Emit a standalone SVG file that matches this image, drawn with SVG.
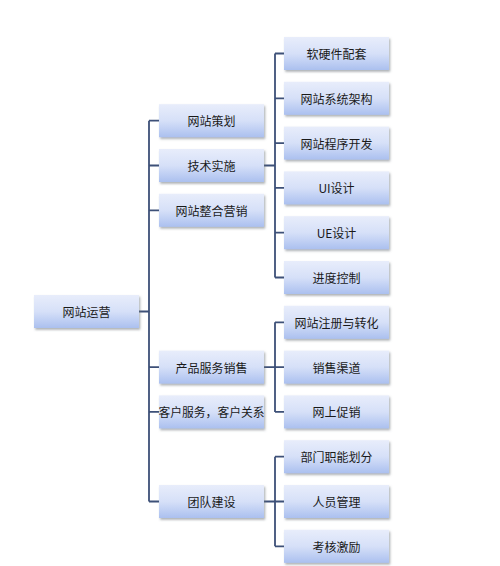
<svg xmlns="http://www.w3.org/2000/svg" width="500" height="566" viewBox="0 0 500 566">
<defs>
<linearGradient id="g" x1="0" y1="0" x2="0" y2="1">
<stop offset="0" stop-color="#e8edfb"/>
<stop offset="0.5" stop-color="#d6e0f8"/>
<stop offset="1" stop-color="#abc0ef"/>
</linearGradient>
<filter id="sh" x="-10%" y="-20%" width="125%" height="150%">
<feDropShadow dx="1.2" dy="1.8" stdDeviation="1" flood-color="#6a6f78" flood-opacity="0.55"/>
</filter>
</defs>
<style>
.b{fill:url(#g);filter:url(#sh)}
.t{font-family:"Noto Sans CJK SC","Liberation Sans",sans-serif;font-size:12px;fill:#1a1a1a;text-anchor:middle;dominant-baseline:central}
.c{stroke:#3d5078;stroke-width:1.8;fill:none}
</style>
<rect width="500" height="566" fill="#ffffff"/>
<g id="connectors" class="c">
<path d="M139 311.5H149M149 120.7V501.5M149 120.7H159M149 165.5H159M149 210.3H159M149 367.1H159M149 411.9H159M149 501.5H159"/>
<path d="M264 165.5H275M275 53.5V277.5M275 53.5H284M275 98.3H284M275 143.1H284M275 187.9H284M275 232.7H284M275 277.5H284"/>
<path d="M264 367.1H275M275 322.3V411.9M275 322.3H284M275 367.1H284M275 411.9H284"/>
<path d="M264 501.5H275M275 456.7V546.3M275 456.7H284M275 501.5H284M275 546.3H284"/>
</g>
<g id="n-root"><rect class="b" x="34" y="295" width="105" height="33"/><text class="t" x="86.5" y="311.5">网站运营</text></g>
<g id="n-plan"><rect class="b" x="159" y="104.2" width="105" height="33"/><text class="t" x="211.5" y="120.7">网站策划</text></g>
<g id="n-tech"><rect class="b" x="159" y="149" width="105" height="33"/><text class="t" x="211.5" y="165.5">技术实施</text></g>
<g id="n-mkt"><rect class="b" x="159" y="193.8" width="105" height="33"/><text class="t" x="211.5" y="210.3">网站整合营销</text></g>
<g id="n-sales"><rect class="b" x="159" y="350.6" width="105" height="33"/><text class="t" x="211.5" y="367.1">产品服务销售</text></g>
<g id="n-cust"><rect class="b" x="159" y="395.4" width="105" height="33"/><text class="t" x="211.5" y="411.9" textLength="106" lengthAdjust="spacingAndGlyphs">客户服务，客户关系</text></g>
<g id="n-team"><rect class="b" x="159" y="485" width="105" height="33"/><text class="t" x="211.5" y="501.5">团队建设</text></g>
<g id="n-hw"><rect class="b" x="284" y="37" width="105" height="33"/><text class="t" x="336.5" y="53.5">软硬件配套</text></g>
<g id="n-arch"><rect class="b" x="284" y="81.8" width="105" height="33"/><text class="t" x="336.5" y="98.3">网站系统架构</text></g>
<g id="n-dev"><rect class="b" x="284" y="126.6" width="105" height="33"/><text class="t" x="336.5" y="143.1">网站程序开发</text></g>
<g id="n-ui"><rect class="b" x="284" y="171.4" width="105" height="33"/><text class="t" x="336.5" y="187.9">UI设计</text></g>
<g id="n-ue"><rect class="b" x="284" y="216.2" width="105" height="33"/><text class="t" x="336.5" y="232.7">UE设计</text></g>
<g id="n-prog"><rect class="b" x="284" y="261" width="105" height="33"/><text class="t" x="336.5" y="277.5">进度控制</text></g>
<g id="n-reg"><rect class="b" x="284" y="305.8" width="105" height="33"/><text class="t" x="336.5" y="322.3">网站注册与转化</text></g>
<g id="n-chan"><rect class="b" x="284" y="350.6" width="105" height="33"/><text class="t" x="336.5" y="367.1">销售渠道</text></g>
<g id="n-promo"><rect class="b" x="284" y="395.4" width="105" height="33"/><text class="t" x="336.5" y="411.9">网上促销</text></g>
<g id="n-dept"><rect class="b" x="284" y="440.2" width="105" height="33"/><text class="t" x="336.5" y="456.7">部门职能划分</text></g>
<g id="n-staff"><rect class="b" x="284" y="485" width="105" height="33"/><text class="t" x="336.5" y="501.5">人员管理</text></g>
<g id="n-kpi"><rect class="b" x="284" y="529.8" width="105" height="33"/><text class="t" x="336.5" y="546.3">考核激励</text></g>
</svg>
